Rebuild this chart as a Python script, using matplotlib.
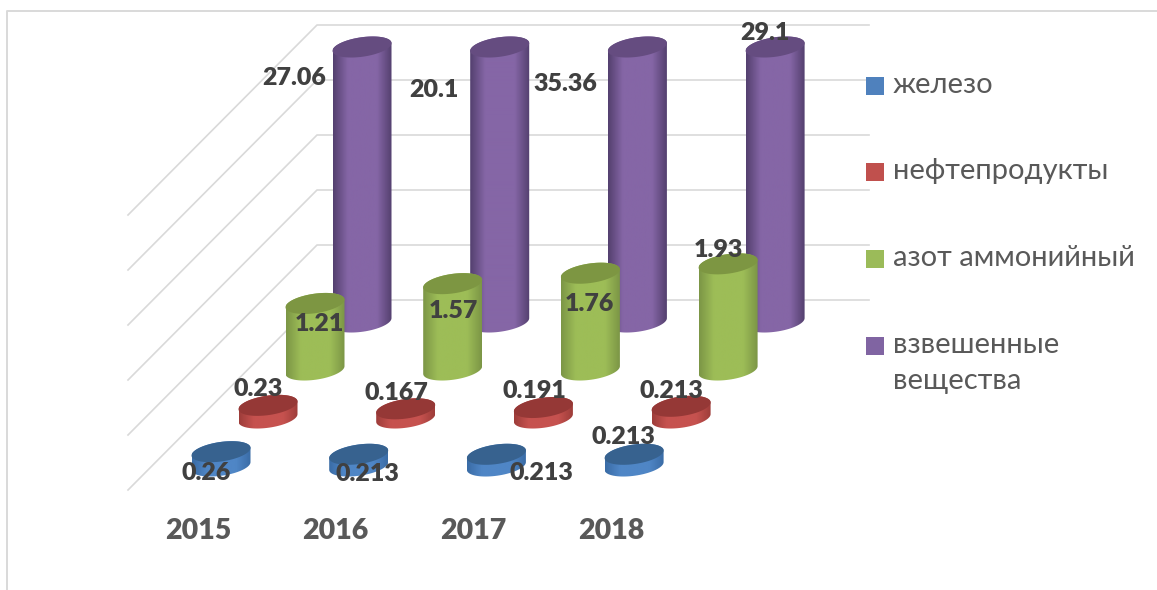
"""
3D-looking cylinder chart: water pollutants by year (axis capped at 5).
"""
import numpy as np
import matplotlib
matplotlib.use("Agg")
import matplotlib.pyplot as plt
from matplotlib.colors import LinearSegmentedColormap
from matplotlib.patches import PathPatch, Rectangle
from matplotlib.path import Path

plt.rcParams["font.family"] = ["Lato", "Noto Sans", "DejaVu Sans"]

YEARS = ["2015", "2016", "2017", "2018"]
SERIES = ["железо", "нефтепродукты", "азот аммонийный", "взвешенные\nвещества"]
IRON = [0.26, 0.213, 0.213, 0.213]
OIL = [0.23, 0.167, 0.191, 0.213]
AMMONIA = [1.21, 1.57, 1.76, 1.93]
SOLIDS = [27.06, 20.1, 35.36, 29.1]
LABELS = [
    ["0.26", "0.213", "0.213", "0.213"],
    ["0.23", "0.167", "0.191", "0.213"],
    ["1.21", "1.57", "1.76", "1.93"],
    ["27.06", "20.1", "35.36", "29.1"],
]
GRID_TICKS = [0, 1, 2, 3, 4, 5]
AXIS_MAX = 5

# side centre, side edge, top
COLORS = [
    ("#4f86c6", "#3a6ca6", "#37628f"),
    ("#c6524f", "#9e3d3a", "#953836"),
    ("#9dbd57", "#7c9646", "#7d9642"),
    ("#8566a6", "#54406f", "#654c80"),
]
LEGEND_COLORS = ["#4f81bd", "#c0504d", "#9bbb59", "#8064a2"]

# ── Layout (pixels) ───────────────────────────────────────────────────────────
X0, Y0 = 221, 466      # base of the front-left cylinder
YEAR_STEP = 137.7
DEPTH_DX, DEPTH_DY = 47, -48
UNIT_PX = 55           # px per axis unit
R_X, R_Y, TILT = 29.5, 9.8, 0.13

WALL_X0, WALL_X1, WALL_Y0 = 317, 869, 300
DIAG_LEN = 189

# label centres, same order as LABELS
LABEL_POS = [
    [(206, 473), (367, 474), (541, 473), (623, 437)],
    [(258, 389), (396, 393), (534, 391), (671, 391)],
    [(319, 324), (453, 311), (589, 304), (718, 250)],
    [(294, 78), (434, 90), (565, 84), (765, 33)],
]
LEGEND_Y = [86, 172, 259, 346]


def ellipse(cx, cy, t):
    return (cx + R_X * np.cos(t),
            cy - TILT * R_X * np.cos(t) + R_Y * np.sin(t))


def draw_cylinder(ax, cx, base_y, height, colors):
    centre, edge, top = colors
    top_y = base_y - height
    t_low = np.linspace(0, np.pi, 40)
    t_up = np.linspace(np.pi, 2 * np.pi, 40)
    xb, yb = ellipse(cx, base_y, t_low)
    xt, yt = ellipse(cx, top_y, t_up)
    verts = np.vstack([np.column_stack([xb, yb]), np.column_stack([xt, yt])])
    clip = PathPatch(Path(np.vstack([verts, verts[:1]]), closed=True),
                     transform=ax.transData, facecolor="none", edgecolor="none")
    ax.add_patch(clip)

    cmap = LinearSegmentedColormap.from_list(
        "side", [(0, edge), (0.25, centre), (0.75, centre), (1, edge)])
    grad = np.linspace(0, 1, 120).reshape(1, -1)
    im = ax.imshow(grad, cmap=cmap, aspect="auto", zorder=3,
                   extent=(cx - R_X, cx + R_X, base_y + 2 * R_Y, top_y - 2 * R_Y))
    im.set_clip_path(clip)

    t = np.linspace(0, 2 * np.pi, 80)
    xe, ye = ellipse(cx, top_y, t)
    ax.fill(xe, ye, color=top, lw=0, zorder=3)


def draw_chart():
    fig = plt.figure(figsize=(11.57, 5.90), dpi=100)
    ax = fig.add_axes([0, 0, 1, 1])

    # outer chart frame
    ax.plot([7, 7, 1157], [590, 11, 11], color="#d9d9d9", lw=1.4, zorder=1)

    # gridlines on the back wall and side wall
    for tick in GRID_TICKS:
        y = WALL_Y0 - tick * 55
        ax.plot([WALL_X0 - DIAG_LEN, WALL_X0, WALL_X1],
                [y + DIAG_LEN + 1, y, y], color="#d9d9d9", lw=1.2, zorder=1)

    rows = [IRON, OIL, AMMONIA, SOLIDS]
    for j in range(len(rows) - 1, -1, -1):
        for i, value in enumerate(rows[j]):
            cx = X0 + i * YEAR_STEP + j * DEPTH_DX
            base_y = Y0 + j * DEPTH_DY
            draw_cylinder(ax, cx, base_y, min(value, AXIS_MAX) * UNIT_PX, COLORS[j])

    for labels, positions in zip(LABELS, LABEL_POS):
        for text, (x, y) in zip(labels, positions):
            ax.text(x, y, text, ha="center", va="center", color="#404040",
                    fontsize=18, fontweight="heavy", zorder=5)

    for i, year in enumerate(YEARS):
        ax.text(X0 - 23 + i * YEAR_STEP, 531, year, ha="center", va="center",
                color="#595959", fontsize=20.5, fontweight="heavy", zorder=5)

    for name, color, y in zip(SERIES, LEGEND_COLORS, LEGEND_Y):
        ax.add_patch(Rectangle((866, y - 9), 18, 18, facecolor=color,
                               edgecolor="none", zorder=5))
        ax.text(893, y - 14, name, ha="left", va="top", color="#595959",
                fontsize=21, linespacing=1.47, zorder=5)

    ax.set_xlim(0, 1157)
    ax.set_ylim(590, 0)
    ax.axis("off")
    fig.savefig("out.png", dpi=100, facecolor="white")
    plt.close(fig)


if __name__ == "__main__":
    draw_chart()
